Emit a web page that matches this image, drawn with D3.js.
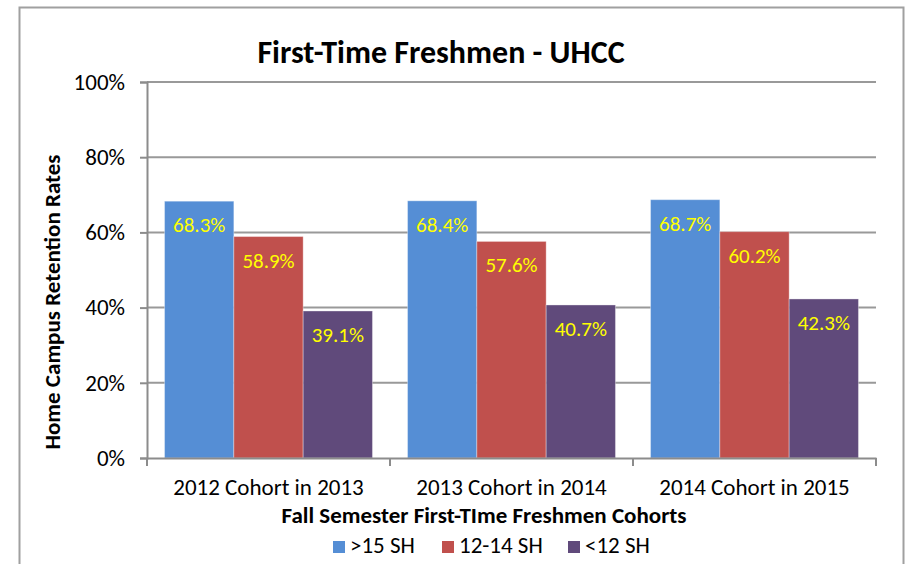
<!DOCTYPE html>
<html>
<head>
<meta charset="UTF-8">
<title>First-Time Freshmen - UHCC</title>
<script src="https://cdn.jsdelivr.net/npm/d3@7"></script>
<style>
  body { margin: 0; background: #fff; }
  text { font-family: Carlito, Lato, "Open Sans", sans-serif; }
</style>
</head>
<body>
<svg width="909" height="564"></svg>
<script>
var categories = ["2012 Cohort in 2013", "2013 Cohort in 2014", "2014 Cohort in 2015"];
var seriesNames = [">15 SH", "12-14 SH", "<12 SH"];
var over15 = [68.3, 68.4, 68.7];
var mid12to14 = [58.9, 57.6, 60.2];
var under12 = [39.1, 40.7, 42.3];
var yTicks = [0, 20, 40, 60, 80, 100];
var colors = ["#558ED5", "#C0504D", "#604A7B"];

var series = [over15, mid12to14, under12];

var svg = d3.select("svg");
var margin = {left: 147, right: 33, top: 82, bottom: 106};
var W = 909, H = 564;

// outer chart border
svg.append("rect")
  .attr("x", 19.5).attr("y", 7.5)
  .attr("width", 884).attr("height", 570)
  .attr("fill", "none").attr("stroke", "#a0a0a0").attr("stroke-width", 2);

var x0 = d3.scaleBand().domain(categories)
  .range([margin.left, W - margin.right]).paddingInner(0).paddingOuter(0);
var x1 = d3.scaleBand().domain(d3.range(3))
  .range([0, x0.bandwidth()]).paddingInner(0).paddingOuter(0.253);
var y = d3.scaleLinear().domain([0, 100]).range([H - margin.bottom, margin.top]);

// gridlines
svg.append("g").selectAll("line").data(yTicks.slice(1)).enter().append("line")
  .attr("x1", margin.left).attr("x2", W - margin.right)
  .attr("y1", function(d){ return y(d); }).attr("y2", function(d){ return y(d); })
  .attr("stroke", "#999").attr("stroke-width", 2);

// bars
var groups = svg.append("g").selectAll("g").data(categories).enter().append("g")
  .attr("transform", function(d){ return "translate(" + x0(d) + ",0)"; });

groups.selectAll("rect").data(function(d, ci){
    return series.map(function(s, si){ return {si: si, v: s[ci]}; });
  }).enter().append("rect")
  .attr("x", function(d){ return x1(d.si); })
  .attr("width", x1.bandwidth())
  .attr("y", function(d){ return y(d.v); })
  .attr("height", function(d){ return y(0) - y(d.v); })
  .attr("fill", function(d){ return colors[d.si]; })
  .attr("stroke", "rgba(255,255,255,0.35)").attr("stroke-width", 1);

groups.selectAll("text").data(function(d, ci){
    return series.map(function(s, si){ return {si: si, v: s[ci]}; });
  }).enter().append("text")
  .attr("x", function(d){ return x1(d.si) + x1.bandwidth() / 2; })
  .attr("y", function(d){ return y(d.v) + 31; })
  .attr("text-anchor", "middle")
  .attr("fill", "#FFFF00").style("font-size", "21px")
  .text(function(d){ return d.v.toFixed(1) + "%"; });

// y axis
var yAxis = svg.append("g").attr("transform", "translate(" + margin.left + ",0)")
  .call(d3.axisLeft(y).tickValues(yTicks).tickSize(7).tickPadding(15)
    .tickFormat(function(d){ return d + "%"; }));
yAxis.select(".domain").attr("stroke", "#8c8c8c").attr("stroke-width", 2);
yAxis.selectAll(".tick line").attr("stroke", "#8c8c8c").attr("stroke-width", 2);
yAxis.selectAll(".tick text").style("font-size", "23px").attr("fill", "#000");

// x axis
var xAxis = svg.append("g").attr("transform", "translate(0," + y(0) + ")")
  .call(d3.axisBottom(x0).tickSize(0).tickPadding(21));
xAxis.select(".domain").attr("stroke", "#8c8c8c").attr("stroke-width", 2);
xAxis.selectAll(".tick text").style("font-size", "23px").attr("fill", "#000");
xAxis.selectAll(".sep").data(d3.range(categories.length + 1)).enter().append("line")
  .attr("x1", function(i){ return margin.left + i * x0.bandwidth(); })
  .attr("x2", function(i){ return margin.left + i * x0.bandwidth(); })
  .attr("y1", 0).attr("y2", 8)
  .attr("stroke", "#8c8c8c").attr("stroke-width", 2);

// title
svg.append("text").attr("x", 441).attr("y", 63).attr("text-anchor", "middle")
  .style("font-size", "32px").style("font-weight", "bold").text("First-Time Freshmen - UHCC");

// axis titles
svg.append("text").attr("x", 484).attr("y", 523)
  .attr("text-anchor", "middle").style("font-size", "23px").style("font-weight", "bold")
  .text("Fall Semester First-TIme Freshmen Cohorts");

svg.append("text").attr("transform", "translate(60,302) rotate(-90)")
  .attr("text-anchor", "middle").style("font-size", "23px").style("font-weight", "bold")
  .text("Home Campus Retention Rates");

// legend
var legendX = [333, 442, 568];
var legend = svg.append("g").selectAll("g").data(seriesNames).enter().append("g")
  .attr("transform", function(d, i){ return "translate(" + legendX[i] + ",541)"; });
legend.append("rect").attr("width", 12).attr("height", 12)
  .attr("fill", function(d, i){ return colors[i]; });
legend.append("text").attr("x", 17).attr("y", 12).style("font-size", "23px")
  .text(function(d){ return d; });
</script>
</body>
</html>
